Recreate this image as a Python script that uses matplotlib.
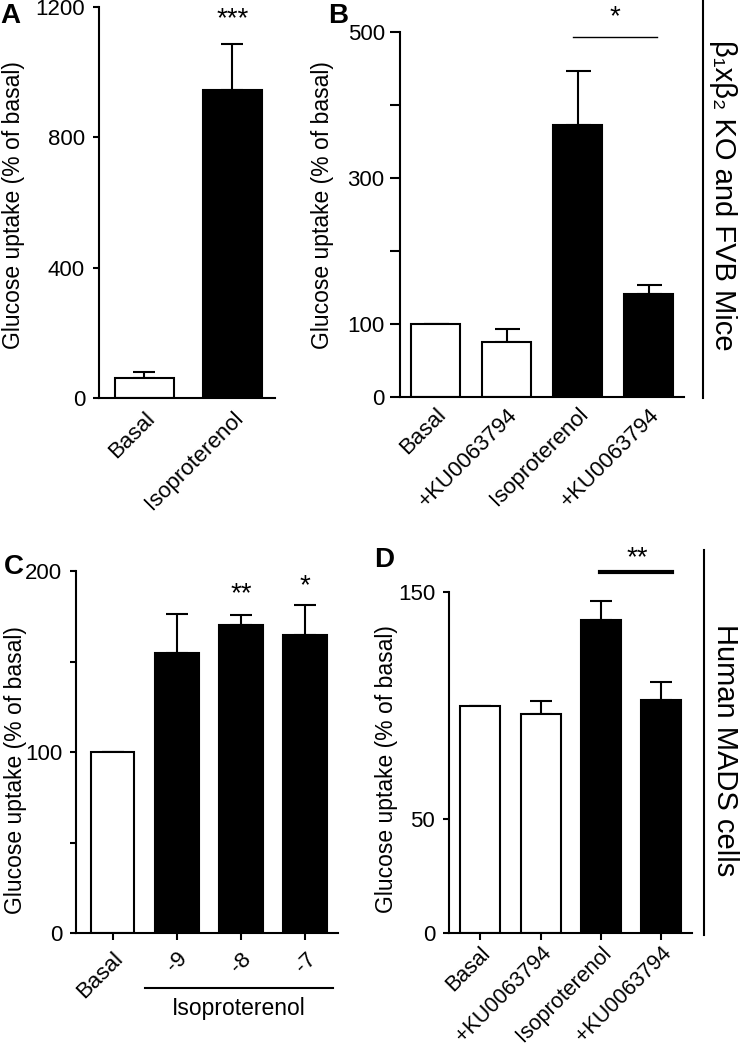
import matplotlib
matplotlib.use('Agg')
import matplotlib.pyplot as plt
from matplotlib.lines import Line2D

plt.rcParams['font.family'] = ['Liberation Sans', 'DejaVu Sans']
plt.rcParams['axes.linewidth'] = 1.5

W, H = 740, 1047

# panel A
a_labels = ['Basal', 'Isoproterenol']
a_vals = [62, 945]
a_errs = [18, 141]
a_fill = ['white', 'black']

# panel B
b_labels = ['Basal', '+KU0063794', 'Isoproterenol', '+KU0063794']
b_vals = [100, 75, 372, 141]
b_errs = [0, 18, 75, 12]
b_fill = ['white', 'white', 'black', 'black']

# panel C
c_labels = ['Basal', '-9', '-8', '-7']
c_vals = [100, 154.5, 170, 164.5]
c_errs = [0, 21.5, 5.7, 16.5]
c_fill = ['white', 'black', 'black', 'black']

# panel D
d_labels = ['Basal', '+KU0063794', 'Isoproterenol', '+KU0063794']
d_vals = [100, 96.4, 137.7, 102.5]
d_errs = [0, 5.8, 8.4, 7.9]
d_fill = ['white', 'white', 'black', 'black']

fig = plt.figure(figsize=(W / 100, H / 100), dpi=100)


def px_axes(x0, y0, x1, y1):
    return fig.add_axes([x0 / W, 1 - y1 / H, (x1 - x0) / W, (y1 - y0) / H])


def bars(ax, vals, errs, fill, width, cap):
    x = list(range(len(vals)))
    ax.bar(x, vals, width=width, color=fill, edgecolor='black', linewidth=1.5, zorder=2)
    lo = [0] * len(vals)
    ax.errorbar(x, vals, yerr=[lo, errs], fmt='none', ecolor='black',
                elinewidth=1.5, capsize=cap, capthick=1.5, zorder=1)
    for s in ['top', 'right']:
        ax.spines[s].set_visible(False)
    ax.tick_params(labelsize=16, width=1.5)


def ylab(x, y):
    fig.text(x / W, 1 - y / H, 'Glucose uptake (% of basal)', rotation=90,
             ha='center', va='center', fontsize=16.5)


def letter(x, y, s):
    fig.text(x / W, 1 - y / H, s, fontsize=20, fontweight='bold', ha='left', va='top')


# ---- A
ax = px_axes(99, 7, 275, 398)
bars(ax, a_vals, a_errs, a_fill, 0.67, 8)
ax.set_xlim(-0.517, 1.483)
ax.set_ylim(0, 1200)
ax.set_yticks([0, 400, 800, 1200])
ax.set_xticks(range(len(a_labels)))
ax.set_xticklabels(a_labels, rotation=45, ha='right', rotation_mode='anchor')
ax.tick_params(axis='x', length=0, pad=7)
ax.tick_params(axis='y', length=4, pad=6)
ax.text(1, 1163, '***', ha='center', va='center', fontsize=20)
ylab(14, 205)
letter(0, 3, 'A')

# ---- B
ax = px_axes(400, 32, 684, 397)
bars(ax, b_vals, b_errs, b_fill, 0.68, 9)
ax.set_xlim(-0.5, 3.5)
ax.set_ylim(0, 500)
ax.set_yticks([0, 100, 300, 500])
ax.set_yticks([200, 400], minor=True)
ax.set_xticks(range(len(b_labels)))
ax.set_xticklabels(b_labels, rotation=45, ha='right', rotation_mode='anchor')
ax.tick_params(axis='x', length=0, pad=5)
ax.tick_params(axis='y', which='both', length=7, width=1.5, pad=4)
ax.plot([1.94, 3.12], [493, 493], color='black', lw=1, clip_on=False)
ax.text(2.53, 520, '*', ha='center', va='center', fontsize=20)
ylab(322, 205)
letter(328, 3, 'B')

# ---- C
ax = px_axes(76, 571, 338, 933)
bars(ax, c_vals, c_errs, c_fill, 0.68, 8)
ax.set_xlim(-0.57, 3.51)
ax.set_ylim(0, 200)
ax.set_yticks([0, 100, 200])
ax.set_yticks([50, 150], minor=True)
ax.set_xticks(range(len(c_labels)))
ax.set_xticklabels(c_labels, rotation=45, ha='right', rotation_mode='anchor')
ax.tick_params(axis='x', length=5, pad=6, direction='out')
ax.tick_params(axis='y', which='both', length=4, width=1.5, pad=6)
ax.plot([0.5, 3.43], [-30.6, -30.6], color='black', lw=1.5, clip_on=False)
ax.text(1.97, -41.5, 'Isoproterenol', ha='center', va='center', fontsize=16.5)
ax.text(2, 187, '**', ha='center', va='center', fontsize=20)
ax.text(3, 191.5, '*', ha='center', va='center', fontsize=20)
ylab(16, 770)
letter(4, 554, 'C')

# ---- D
ax = px_axes(449, 592, 692, 933)
bars(ax, d_vals, d_errs, d_fill, 0.66, 8)
ax.set_xlim(-0.52, 3.51)
ax.set_ylim(0, 150)
ax.set_yticks([0, 50, 150])
ax.set_xticks(range(len(d_labels)))
ax.set_xticklabels(d_labels, rotation=45, ha='right', rotation_mode='anchor', fontsize=15.5)
ax.tick_params(axis='x', length=5, pad=2, direction='out')
ax.tick_params(axis='y', length=4, width=1.5, pad=6)
ax.plot([1.98, 3.18], [159, 159], color='black', lw=3, clip_on=False)
ax.text(2.6, 165, '**', ha='center', va='center', fontsize=20)
ylab(386, 769)
letter(374, 547, 'D')

# right-side group labels
fig.add_artist(Line2D([703 / W, 703 / W], [1 - 0 / H, 1 - 398 / H], color='black', lw=1.5))
fig.add_artist(Line2D([704 / W, 704 / W], [1 - 550 / H, 1 - 935 / H], color='black', lw=1.5))
fig.text(723 / W, 1 - 195 / H, 'β₁xβ₂ KO and FVB Mice', rotation=-90,
         ha='center', va='center', fontsize=21)
fig.text(725 / W, 1 - 750 / H, 'Human MADS cells', rotation=-90,
         ha='center', va='center', fontsize=21)

fig.savefig('out.png', dpi=100)
